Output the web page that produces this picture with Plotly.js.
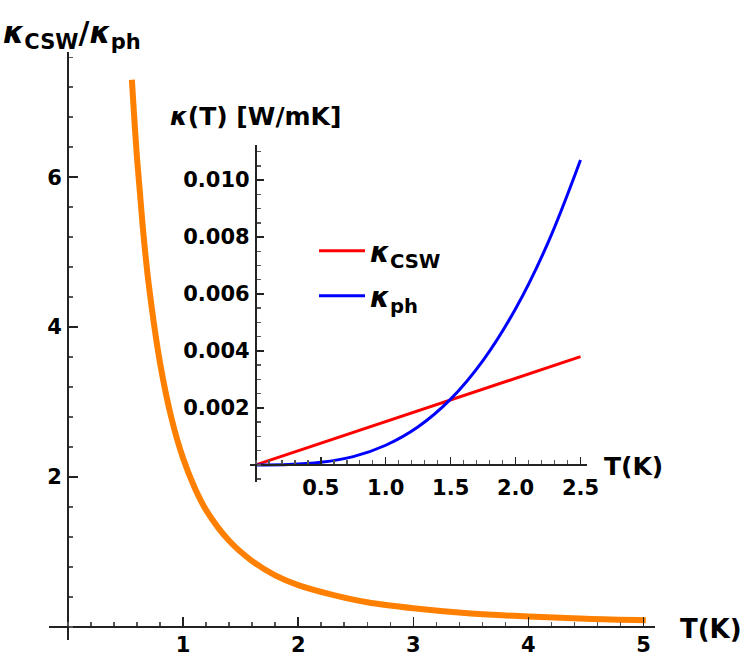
<!DOCTYPE html>
<html>
<head>
<meta charset="utf-8">
<script src="https://cdn.plot.ly/plotly-3.0.1.min.js"></script>
<style>html,body{margin:0;padding:0;background:#fff;}#chart{width:747px;height:666px;}</style>
</head>
<body>
<div id="chart"></div>
<script>
// ---- data ----
const mainT = [0.555, 0.6, 0.65, 0.7, 0.8, 0.9, 1.0, 1.1, 1.2, 1.4, 1.6, 1.8, 2.0, 2.3, 2.6, 3.0, 3.5, 4.0, 4.5, 5.02];
const ratio = [7.30, 6.25, 5.33, 4.59, 3.52, 2.78, 2.25, 1.86, 1.56, 1.15, 0.88, 0.69, 0.56, 0.43, 0.33, 0.25, 0.18, 0.14, 0.11, 0.09];

const cswT = [0, 0.5, 1.0, 1.5, 2.0, 2.5];
const kCSW = [0, 0.00076, 0.00152, 0.00228, 0.00304, 0.0038];

const phT = [0, 0.25, 0.5, 0.75, 1.0, 1.25, 1.5, 1.75, 2.0, 2.25, 2.5];
const kPh = [0, 0.00001, 0.00009, 0.00029, 0.00069, 0.00134, 0.00231, 0.00367, 0.00548, 0.0078, 0.0107];

const mainXTicks = [1, 2, 3, 4, 5];
const mainYTicks = [2, 4, 6];
const insetXTicks = [0.5, 1.0, 1.5, 2.0, 2.5];
const insetYTicks = [0.002, 0.004, 0.006, 0.008, 0.010];

// ---- layout geometry ----
const W = 747, H = 666;
const mL = 49, mR = 92, mT = 52, mB = 26;
const pw = W - mL - mR, ph = H - mT - mB;
const px = x => (x - mL) / pw;
const py = y => (H - mB - y) / ph;

const xr = [-0.165, 5.1], yr = [-0.173, 7.67];
const x2r = [-0.045, 2.55], y2r = [-0.0006, 0.01123];
const x2dom = [px(250), px(587)];
const y2dom = [py(482), py(145)];

const FONT = "'DejaVu Sans', 'Liberation Sans', Arial, sans-serif";
const tickFont = {family: FONT, size: 21, color: '#000', weight: 'bold'};
const axCol = '#222';

const traces = [
  {x: mainT, y: ratio, type: 'scatter', mode: 'lines', line: {color: '#FF8000', width: 6, shape: 'spline'}, showlegend: false, xaxis: 'x', yaxis: 'y'},
  {x: cswT, y: kCSW, type: 'scatter', mode: 'lines', name: '<b><i>κ</i><sub>CSW</sub></b>', line: {color: '#FF0000', width: 3}, xaxis: 'x2', yaxis: 'y2', legend: 'legend'},
  {x: phT, y: kPh, type: 'scatter', mode: 'lines', name: '<b><i>κ</i><sub>ph</sub></b>', line: {color: '#0000FF', width: 3, shape: 'spline'}, xaxis: 'x2', yaxis: 'y2', legend: 'legend2'}
];

const legendBase = {xanchor: 'left', yanchor: 'top', bgcolor: 'rgba(0,0,0,0)', itemwidth: 46, font: {family: FONT, size: 28, color: '#000'}};

const layout = {
  width: W, height: H,
  margin: {l: mL, r: mR, t: mT, b: mB, pad: 0},
  paper_bgcolor: '#fff', plot_bgcolor: 'rgba(0,0,0,0)',
  font: {family: FONT, color: '#000'},
  xaxis: {
    range: xr, domain: [0, 1], anchor: 'free', position: (0 - yr[0]) / (yr[1] - yr[0]),
    showgrid: false, zeroline: false, showline: true, linecolor: axCol, linewidth: 2,
    tickmode: 'array', tickvals: mainXTicks, ticks: 'inside', ticklen: 9, tickwidth: 1.5, tickcolor: axCol,
    tickfont: tickFont, ticklabelstandoff: -1,
    minor: {dtick: 0.2, tick0: 0, ticks: 'inside', ticklen: 4, tickwidth: 1.5, tickcolor: '#555', showgrid: false}
  },
  yaxis: {
    range: yr, domain: [0, 1], anchor: 'free', position: (0 - xr[0]) / (xr[1] - xr[0]),
    showgrid: false, zeroline: false, showline: true, linecolor: axCol, linewidth: 2,
    tickmode: 'array', tickvals: mainYTicks, ticks: 'inside', ticklen: 9, tickwidth: 1.5, tickcolor: axCol,
    tickfont: tickFont, ticklabelstandoff: 1,
    minor: {dtick: 0.4, tick0: 0, ticks: 'inside', ticklen: 4, tickwidth: 1.5, tickcolor: '#555', showgrid: false}
  },
  xaxis2: {
    range: x2r, domain: x2dom, anchor: 'free',
    position: y2dom[0] + (0 - y2r[0]) / (y2r[1] - y2r[0]) * (y2dom[1] - y2dom[0]),
    showgrid: false, zeroline: false, showline: true, linecolor: axCol, linewidth: 2,
    tickmode: 'array', tickvals: insetXTicks, tickformat: '.1f', ticks: 'inside', ticklen: 7, tickwidth: 1.5, tickcolor: axCol,
    tickfont: tickFont, ticklabelstandoff: 4,
    minor: {dtick: 0.1, tick0: 0, ticks: 'inside', ticklen: 4, tickwidth: 1.5, tickcolor: '#555', showgrid: false}
  },
  yaxis2: {
    range: y2r, domain: y2dom, anchor: 'free',
    position: x2dom[0] + (0 - x2r[0]) / (x2r[1] - x2r[0]) * (x2dom[1] - x2dom[0]),
    showgrid: false, zeroline: false, showline: true, linecolor: axCol, linewidth: 2,
    tickmode: 'array', tickvals: insetYTicks, tickformat: '.3f', ticks: 'inside', ticklen: 7, tickwidth: 1.5, tickcolor: axCol,
    tickfont: tickFont, ticklabelstandoff: 1,
    minor: {dtick: 0.0005, tick0: 0, ticks: 'inside', ticklen: 4, tickwidth: 1.5, tickcolor: '#555', showgrid: false}
  },
  legend: Object.assign({x: px(314), y: py(226)}, legendBase),
  legend2: Object.assign({x: px(314), y: py(271)}, legendBase),
  annotations: [
    {text: '<b><i>κ</i><sub>CSW</sub>/<i>κ</i><sub>ph</sub></b>', xref: 'paper', yref: 'paper', x: px(1), y: py(34), xanchor: 'left', yanchor: 'middle', showarrow: false, font: {family: FONT, size: 30, color: '#000'}},
    {text: '<b>T(K)</b>', xref: 'paper', yref: 'paper', x: px(678), y: py(629), xanchor: 'left', yanchor: 'middle', showarrow: false, font: {family: FONT, size: 26, color: '#000'}},
    {text: '<b><i>κ</i>(T) [W/mK]</b>', xref: 'paper', yref: 'paper', x: px(168), y: py(117), xanchor: 'left', yanchor: 'middle', showarrow: false, font: {family: FONT, size: 25, color: '#000'}},
    {text: '<b>T(K)</b>', xref: 'paper', yref: 'paper', x: px(602), y: py(466), xanchor: 'left', yanchor: 'middle', showarrow: false, font: {family: FONT, size: 25, color: '#000'}}
  ]
};

Plotly.newPlot('chart', traces, layout, {displayModeBar: false, staticPlot: true});
</script>
</body>
</html>
